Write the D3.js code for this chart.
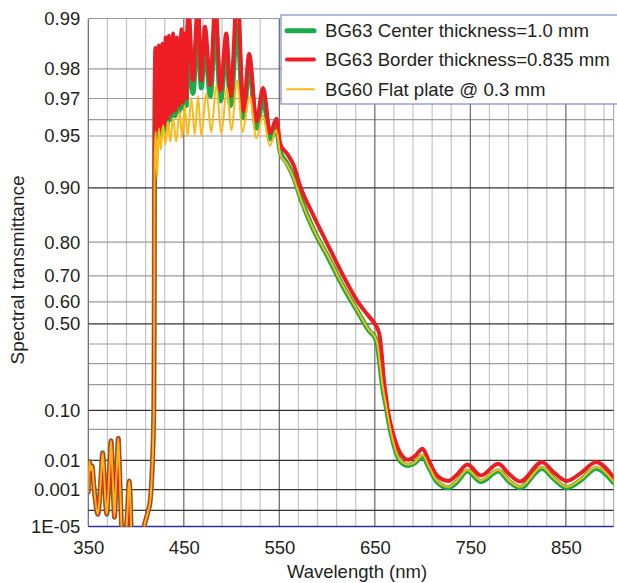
<!DOCTYPE html>
<html><head><meta charset="utf-8">
<script src="https://cdn.jsdelivr.net/npm/d3@7"></script>
<style>
body{margin:0;background:#fff}
svg{display:block}
text{font-family:"Liberation Sans",Arial,Helvetica,sans-serif;fill:#231f20}
</style>
</head><body>
<svg id="chart" width="617" height="583"></svg>
<script>
// ---------- data ----------
const xTicks = [350, 450, 550, 650, 750, 850];
const xMinorGrid = [370,390,410,430,470,490,510,530,570,590,610,630,670,690,710,730,770,790,810,830,870,890];
const yTickValues = [0.99, 0.98, 0.97, 0.95, 0.90, 0.80, 0.70, 0.60, 0.50, 0.10, 0.01, 0.001, 0.00001];
const yTickLabels = ["0.99","0.98","0.97","0.95","0.90","0.80","0.70","0.60","0.50","0.10","0.01","0.001","1E-05"];
const yMajorGrid = [0.90, 0.50, 0.10, 0.01, 0.001, 0.0001];
const yMinorGrid = [0.98, 0.97, 0.96, 0.95, 0.80, 0.70, 0.60, 0.40, 0.30, 0.20, 0.05];

// UV part (the three curves coincide there)
const uvWave = [350,351,352.5,354,355.5,357.5,360,362,363.5,365,366.5,368,369.3,371,372.5,373.8,375,376.3,377.4,378.7,380.2,381.4,382.6,384,385.5,388,390.8,392.2,392.9,393.7,395,396,407,408.8,411,412.8,414.6,416.4,417.5,418.2,418.7,419.0,419.3];
const uvT    = [0.0008,0.0095,0.005,0.007,0.002,0.0003,0.00006,0.0005,0.004,0.016,0.004,0.0003,0.00006,0.0008,0.008,0.03,0.008,0.0006,0.00004,0.001,0.01,0.034,0.006,0.0002,0.000001,0.000001,0.00005,0.0012,0.0022,0.0008,0.000005,0.000001,0.000001,0.000012,0.00004,0.0001,0.00025,0.0025,0.015,0.05,0.15,0.5,0.9];

const greenWave = [419.7,420.4,422.0,423.7,425.5,427.3,429.2,431.0,432.7,434.3,436.5,438.8,441.0,442.9,445.2,447.6,449.3,451.0,452.6,454.6,459.5,464.8,468.3,472.1,477.8,483.0,488.5,494.5,499.0,506.0,512.5,518.5,526.0,533.0,540.5,547.0,551.0,558.0,565.0,572.0,586.0,600.0,617.0,631.0,645.0,650.5,652.5,655.5,658.5,661.5,664.0,669.4,676.4,685.0,692.0,700.0,706.0,714.8,727.0,735.8,747.0,761.0,779.3,790.0,802.0,825.0,838.0,851.0,866.0,881.5,900.0];
const greenT    = [0.95,0.982,0.949,0.983,0.951,0.983,0.953,0.984,0.957,0.984,0.960,0.985,0.962,0.984,0.964,0.986,0.966,0.985,0.967,0.989,0.972,0.989,0.974,0.986,0.971,0.989,0.969,0.985,0.967,0.989,0.961,0.981,0.955,0.970,0.948,0.955,0.938,0.928,0.913,0.887,0.828,0.765,0.66,0.565,0.46,0.43,0.40,0.29,0.18,0.12,0.075,0.027,0.0098,0.0072,0.0085,0.013,0.0068,0.0021,0.0012,0.002,0.0048,0.0021,0.0048,0.0022,0.0012,0.0058,0.0025,0.0012,0.0024,0.0058,0.0019];

const redWave = [419.6,420.2,422.0,423.7,425.5,427.3,429.2,431.0,432.7,434.3,436.5,438.8,441.0,442.9,445.2,447.6,449.3,451.0,452.6,454.6,459.5,464.8,468.3,472.1,477.8,483.0,488.5,494.5,499.0,506.0,512.5,518.5,526.0,533.0,540.5,547.0,551.0,558.0,565.0,572.0,586.0,600.0,617.0,631.0,642.0,650.0,653.0,655.5,657.5,659.5,662.0,664.0,669.4,676.4,685.0,692.0,700.0,706.0,714.8,727.0,735.8,747.0,761.0,779.3,790.0,802.0,825.0,838.0,851.0,866.0,881.5,900.0];
const redT    = [0.97,0.985,0.9537,0.9855,0.9547,0.9858,0.9567,0.987,0.9604,0.9873,0.963,0.9877,0.9646,0.987,0.967,0.9884,0.9685,0.9877,0.970,0.992,0.9765,0.992,0.9765,0.9888,0.975,0.992,0.973,0.9877,0.971,0.993,0.9645,0.9837,0.959,0.974,0.952,0.9604,0.9445,0.9367,0.926,0.902,0.856,0.797,0.70,0.6075,0.545,0.50,0.475,0.43,0.33,0.22,0.14,0.094,0.04,0.016,0.0105,0.013,0.02,0.0105,0.0035,0.0022,0.0036,0.0076,0.0034,0.008,0.004,0.0021,0.0089,0.0042,0.0022,0.0042,0.0089,0.0029];

const yellowWave = [419.5,420.5,422.0,423.8,425.8,428.2,430.8,433.4,436.0,438.7,442.0,445.6,448.3,450.9,454.0,457.9,461.5,464.9,468.3,473.6,478.8,484.0,489.3,495.2,499.7,506.0,511.3,519.0,526.0,532.9,540.0,546.9,551.0,558.0,565.0,572.0,586.0,600.0,617.0,631.0,645.0,650.5,652.5,655.5,658.5,661.5,664.0,669.4,676.4,685.0,692.0,700.0,706.0,714.8,727.0,735.8,747.0,761.0,779.3,790.0,802.0,825.0,838.0,851.0,866.0,881.5,900.0];
const yellowT    = [0.93,0.953,0.913,0.955,0.940,0.957,0.944,0.959,0.946,0.961,0.946,0.964,0.949,0.967,0.950,0.970,0.951,0.971,0.950,0.972,0.9525,0.975,0.9515,0.974,0.9537,0.9765,0.9525,0.971,0.9485,0.962,0.943,0.9537,0.936,0.927,0.912,0.886,0.829,0.767,0.663,0.568,0.463,0.432,0.405,0.295,0.185,0.123,0.078,0.028,0.0103,0.0077,0.009,0.014,0.0073,0.0023,0.0013,0.0022,0.0052,0.0023,0.0052,0.0024,0.0013,0.0063,0.0027,0.0013,0.0026,0.0063,0.0021];

const seriesNames = ["BG63 Center thickness=1.0 mm","BG63 Border thickness=0.835 mm","BG60 Flat plate @ 0.3 mm"];
const seriesColors = ["#1aab4b","#ee1d23","#fdb913"];
const seriesWidths = [5, 4, 2];

// ---------- scales ----------
const svg = d3.select("#chart");
const pLeft = 88.3, pRight = 613.6, pTop = 18.5, pBottom = 526.5;
const tf = t => Math.log10(-Math.log10(t));
const x = d3.scaleLinear().domain([350, 900]).range([pLeft, pRight]);
const yF = d3.scaleLinear().domain([tf(0.99), tf(0.00001)]).range([pTop, pBottom]);
const y = t => yF(tf(t));

// ---------- grid ----------
const g = svg.append("g");
g.selectAll(".vmin").data(xMinorGrid).enter().append("line")
  .attr("x1", d => x(d)).attr("x2", d => x(d)).attr("y1", pTop).attr("y2", pBottom)
  .attr("stroke", "#c4c4c4").attr("stroke-width", 1.2);
g.selectAll(".hmin").data(yMinorGrid).enter().append("line")
  .attr("x1", pLeft).attr("x2", pRight).attr("y1", d => y(d)).attr("y2", d => y(d))
  .attr("stroke", "#9a9a9a").attr("stroke-width", 1.1);
g.selectAll(".vmaj").data(xTicks.concat([900])).enter().append("line")
  .attr("x1", d => x(d)).attr("x2", d => x(d)).attr("y1", pTop).attr("y2", pBottom)
  .attr("stroke", d => d === 900 ? "#b0b0b0" : "#666").attr("stroke-width", 1.2);
g.selectAll(".hmaj").data(yMajorGrid).enter().append("line")
  .attr("x1", pLeft).attr("x2", pRight).attr("y1", d => y(d)).attr("y2", d => y(d))
  .attr("stroke", "#333").attr("stroke-width", 1.3);
g.append("line").attr("x1", pLeft).attr("x2", pRight).attr("y1", pTop).attr("y2", pTop)
  .attr("stroke", "#999").attr("stroke-width", 1.2);
g.append("line").attr("x1", pLeft).attr("x2", pRight).attr("y1", pBottom).attr("y2", pBottom)
  .attr("stroke", "#2e3192").attr("stroke-width", 1.5);

// ---------- curves ----------
svg.append("clipPath").attr("id", "plotclip").append("rect")
  .attr("x", pLeft).attr("y", pTop).attr("width", pRight - pLeft).attr("height", pBottom - pTop);
const line = d3.line().x(d => x(d[0])).y(d => y(d[1])).curve(d3.curveMonotoneX);
const build = (w, t) => uvWave.map((v, i) => [v, uvT[i]]).concat(w.map((v, i) => [v, t[i]]));
const series = [build(greenWave, greenT), build(redWave, redT), build(yellowWave, yellowT)];
const cg = svg.append("g").attr("clip-path", "url(#plotclip)");
series.forEach((s, i) => {
  cg.append("path").datum(s).attr("d", line).attr("fill", "none")
    .attr("stroke", seriesColors[i]).attr("stroke-width", seriesWidths[i])
    .attr("stroke-linejoin", "round").attr("stroke-linecap", "round");
});

// ---------- axes ----------
const yAxis = svg.append("g").attr("transform", `translate(${pLeft},0)`)
  .call(d3.axisLeft(yF).tickValues(yTickValues.map(tf)).tickFormat((d, i) => yTickLabels[i]).tickSize(0).tickPadding(8));
yAxis.select(".domain").remove();
yAxis.selectAll("text").attr("font-size", 18.5).attr("font-family", "Liberation Sans, Arial, sans-serif").attr("fill", "#231f20");

const xAxis = svg.append("g").attr("transform", `translate(0,${pBottom})`)
  .call(d3.axisBottom(x).tickValues(xTicks).tickFormat(d3.format("d")).tickSize(0).tickPadding(14));
xAxis.select(".domain").remove();
xAxis.selectAll("text").attr("font-size", 18.5).attr("font-family", "Liberation Sans, Arial, sans-serif").attr("fill", "#231f20");

svg.append("text").attr("x", 357).attr("y", 578).attr("text-anchor", "middle")
  .attr("font-size", 18.5).text("Wavelength (nm)");
svg.append("text").attr("transform", "translate(24,270) rotate(-90)").attr("text-anchor", "middle")
  .attr("font-size", 19).text("Spectral transmittance");

// ---------- legend ----------
const lg = svg.append("g");
lg.append("rect").attr("x", 281).attr("y", 15).attr("width", 345).attr("height", 89)
  .attr("fill", "#fff").attr("stroke", "#7d8dc9").attr("stroke-width", 1.2);
const rowY = [30.7, 59.5, 89.3];
seriesNames.forEach((n, i) => {
  lg.append("line").attr("x1", 287).attr("x2", 314).attr("y1", rowY[i]).attr("y2", rowY[i])
    .attr("stroke", seriesColors[i]).attr("stroke-width", seriesWidths[i]).attr("stroke-linecap", "round");
  lg.append("text").attr("x", 325).attr("y", rowY[i] + 6.5).attr("font-size", 18.6).text(n);
});
</script>
</body></html>
